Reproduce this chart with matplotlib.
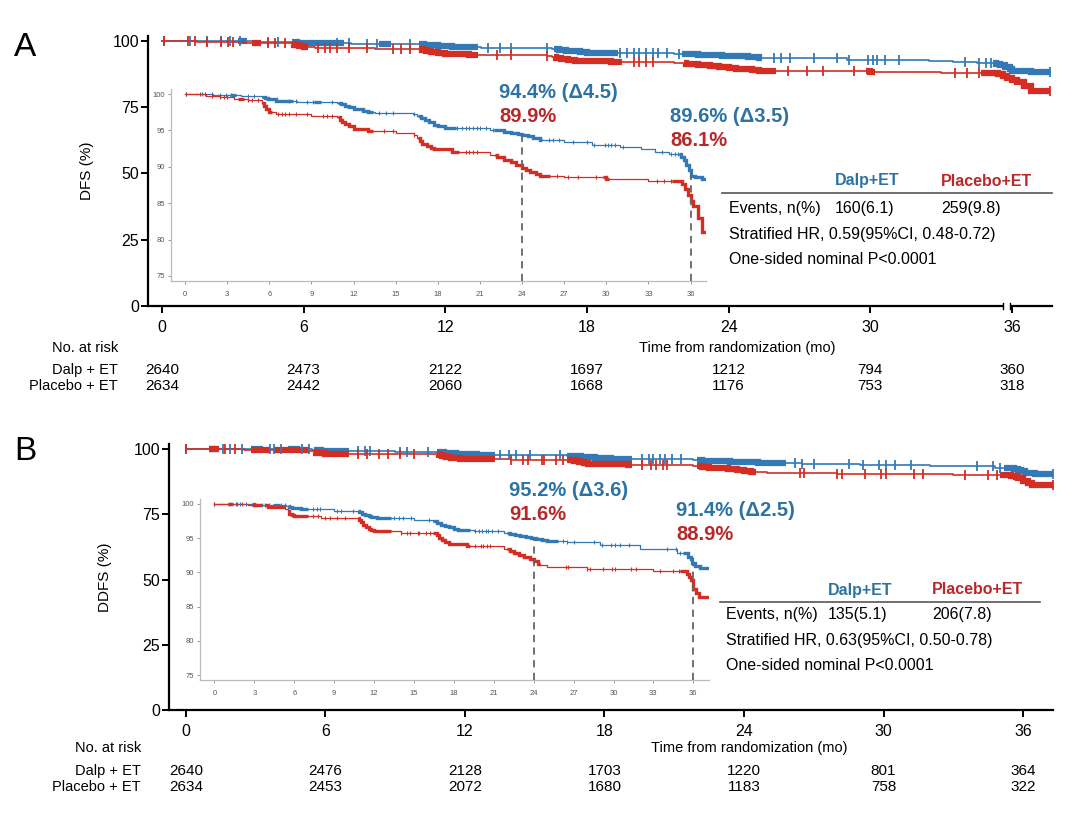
import numpy as np
import matplotlib
matplotlib.use("Agg")
import matplotlib.pyplot as plt
from matplotlib.transforms import blended_transform_factory

plt.rcParams['font.family'] = ['Liberation Sans', 'DejaVu Sans']

# ---------------- data ----------------
months = [0, 6, 12, 18, 24, 30, 36]
inset_ticks = [0, 3, 6, 9, 12, 15, 18, 21, 24, 27, 30, 33, 36]
inset_ylabels = [75, 80, 85, 90, 95, 100]

# Panel A (DFS)
A_blue_t = [0, 2.0, 4.0, 5.5, 5.7, 5.9, 6.5, 8.0, 10.8, 11.1, 11.4, 11.7, 12.0, 12.3, 12.7, 13.0, 13.5,
            16.2, 16.5, 16.8, 17.1, 17.4, 17.7, 18.0, 18.5, 20.0, 21.7, 22.2, 22.7, 23.2, 23.7, 24.0, 24.4,
            24.8, 25.3, 27.0, 29.0, 31.0, 32.5, 33.5, 34.5, 35.3, 35.5, 35.7, 35.9, 36.0, 36.3, 36.8, 37.6]
A_blue_s = [100, 99.9, 99.8, 99.6, 99.4, 99.3, 99.1, 98.9, 98.8, 98.6, 98.4, 98.2, 98.0, 97.9, 97.7, 97.6,
            97.4, 97.2, 97.0, 96.7, 96.4, 96.1, 95.8, 95.6, 95.4, 95.3, 95.1, 95.0, 94.8, 94.6, 94.5, 94.4,
            94.2, 94.0, 93.7, 93.4, 93.0, 92.7, 92.4, 92.1, 91.8, 91.4, 90.9, 90.3, 89.6, 88.8, 88.6, 88.3,
            88.3]
A_red_t = [0, 1.5, 2.5, 3.5, 4.5, 5.5, 5.6, 5.8, 6.0, 6.5, 9.0, 10.8, 11.0, 11.2, 11.4, 11.7, 12.0, 13.0,
           15.0, 16.3, 16.5, 16.7, 16.9, 17.2, 17.5, 17.7, 19.0, 21.7, 22.2, 22.7, 23.2, 23.6, 24.0, 24.3,
           24.6, 25.0, 25.3, 27.0, 30.0, 33.0, 35.4, 35.6, 35.8, 36.0, 36.2, 36.5, 36.8, 37.6]
A_red_s = [100, 99.8, 99.6, 99.3, 99.2, 98.8, 98.4, 98.0, 97.6, 97.3, 97.0, 96.8, 96.5, 96.2, 95.9, 95.6,
           95.2, 94.9, 94.6, 94.4, 94.0, 93.6, 93.2, 92.9, 92.6, 92.4, 92.0, 91.6, 91.3, 91.0, 90.7, 90.3,
           89.9, 89.6, 89.3, 89.0, 88.8, 88.6, 88.3, 88.0, 87.6, 86.9, 86.1, 85.3, 84.6, 83.0, 81.0, 81.0]
A_blue_cens = [0.1, 1.2, 1.9, 2.5, 2.9, 3.3, 4.5, 4.9, 7.4, 7.9, 8.7, 9.1, 10.5, 13.8, 14.3, 14.8, 16.3,
               19.4, 19.7, 20.0, 20.2, 20.5, 20.8, 21.0, 21.4, 21.9, 25.9, 26.2, 26.6, 27.6, 28.6, 29.1,
               29.9, 30.1, 30.3, 30.6, 31.2, 34.0, 34.6, 34.9, 35.1, 37.6]
A_blue_dense = [(3.2, 3.6), (5.5, 7.7), (9.2, 9.7), (10.9, 13.4), (16.6, 19.3), (22.0, 25.4), (35.2, 37.6)]
A_red_cens = [0.1, 1.1, 1.4, 1.9, 2.5, 2.8, 3.0, 4.5, 4.8, 5.2, 6.6, 6.9, 7.1, 7.4, 7.9, 8.7, 9.8, 10.1,
              10.5, 14.2, 14.8, 16.3, 20.0, 20.2, 20.5, 20.8, 26.5, 27.3, 28.0, 29.3, 33.6, 34.1, 34.6, 37.6]
A_red_dense = [(3.8, 4.2), (5.5, 6.2), (10.9, 13.4), (16.6, 19.5), (22.1, 26.0), (29.8, 30.2), (34.7, 37.6)]
A_risk_blue = [2640, 2473, 2122, 1697, 1212, 794, 360]
A_risk_red = [2634, 2442, 2060, 1668, 1176, 753, 318]
A_ann = [("94.4% (\u03944.5)", "89.9%"), ("89.6% (\u03943.5)", "86.1%")]
A_table = ["160(6.1)", "259(9.8)", "Stratified HR, 0.59(95%CI, 0.48-0.72)"]

# Panel B (DDFS)
B_blue_t = [0, 3.0, 5.4, 5.6, 5.8, 6.5, 9.0, 10.9, 11.1, 11.3, 11.6, 11.8, 12.2, 12.5, 15.0, 16.4, 16.7,
            17.0, 17.3, 17.6, 18.0, 18.3, 19.5, 21.8, 22.2, 22.6, 23.0, 23.4, 23.8, 24.2, 24.6, 25.0, 26.5,
            29.0, 32.0, 34.8, 35.6, 35.8, 35.9, 36.1, 36.5, 37.3]
B_blue_s = [100, 99.9, 99.7, 99.5, 99.4, 99.2, 99.0, 98.8, 98.6, 98.4, 98.2, 98.1, 98.0, 97.9, 97.7, 97.5,
            97.2, 97.0, 96.8, 96.6, 96.4, 96.2, 96.0, 95.8, 95.6, 95.5, 95.3, 95.2, 95.0, 94.9, 94.7, 94.6,
            94.4, 94.0, 93.4, 92.9, 92.3, 91.9, 91.4, 90.9, 90.6, 90.6]
B_red_t = [0, 2.5, 4.0, 5.3, 5.5, 5.6, 5.8, 6.0, 8.0, 10.9, 11.0, 11.2, 11.4, 11.6, 11.8, 12.0, 14.0, 16.7,
           16.9, 17.1, 17.3, 17.6, 19.0, 21.8, 22.2, 22.5, 22.9, 23.3, 23.7, 24.0, 24.3, 24.5, 25.0, 28.0,
           33.0, 35.5, 35.7, 35.8, 36.0, 36.2, 36.4, 37.3]
B_red_s = [100, 99.8, 99.5, 99.3, 99.0, 98.6, 98.4, 98.2, 98.0, 97.7, 97.4, 97.0, 96.7, 96.4, 96.2, 96.1,
           95.8, 95.4, 95.1, 94.7, 94.4, 94.2, 93.9, 93.4, 93.1, 92.9, 92.6, 92.3, 91.9, 91.6, 91.3, 91.1,
           90.8, 90.5, 90.2, 89.8, 89.3, 88.9, 87.6, 87.0, 86.4, 86.4]
B_blue_cens = [0.0, 1.6, 1.9, 2.4, 3.6, 3.8, 4.1, 5.0, 5.3, 7.4, 7.7, 7.9, 9.2, 9.5, 10.4, 13.5, 13.9, 14.2,
               14.8, 16.1, 19.6, 19.9, 20.1, 20.4, 20.6, 20.9, 21.3, 26.2, 26.5, 27.0, 28.5, 29.1, 29.8,
               30.1, 30.5, 31.2, 34.0, 34.7, 35.0, 37.3]
B_blue_dense = [(1.0, 1.3), (2.8, 3.3), (4.4, 4.9), (5.5, 7.0), (10.8, 13.3), (16.4, 19.2), (22.0, 25.8),
                (35.2, 37.3)]
B_red_cens = [0.0, 1.7, 2.1, 7.4, 7.8, 8.3, 8.7, 9.2, 9.8, 14.0, 14.5, 14.7, 15.3, 15.4, 15.9, 16.2, 19.6,
              20.0, 20.2, 20.5, 20.7, 26.4, 26.6, 28.0, 28.2, 29.2, 29.9, 30.1, 31.3, 31.7, 33.5, 34.5,
              34.9, 37.3]
B_red_dense = [(1.0, 1.4), (2.8, 3.6), (3.8, 5.3), (5.5, 7.0), (10.8, 13.3), (16.4, 19.2), (22.0, 24.5),
               (35.0, 37.3)]
B_risk_blue = [2640, 2476, 2128, 1703, 1220, 801, 364]
B_risk_red = [2634, 2453, 2072, 1680, 1183, 758, 322]
B_ann = [("95.2% (\u03943.6)", "91.6%"), ("91.4% (\u03942.5)", "88.9%")]
B_table = ["135(5.1)", "206(7.8)", "Stratified HR, 0.63(95%CI, 0.50-0.78)"]

BLUE = '#3279b5'
RED = '#d42d24'
TBLUE = '#2c72a3'
TRED = '#b8282a'

W, H = 1080, 823
fig = plt.figure(figsize=(W / 100, H / 100), dpi=100)


def fx(x):
    return x / W


def fy(y):
    return 1 - y / H


def rect(x0, x1, y0, y1):
    return [fx(x0), fy(y1), (x1 - x0) / W, (y1 - y0) / H]


def surv_at(t, s, x):
    t = np.asarray(t)
    s = np.asarray(s)
    i = np.searchsorted(t, x, side='right') - 1
    i = np.clip(i, 0, len(s) - 1)
    return s[i]


def step_xy(t, s, a, b):
    xs = [a]
    ys = [float(surv_at(t, s, a))]
    for ti, si in zip(t, s):
        if a < ti < b:
            xs += [ti, ti]
            ys += [ys[-1], si]
    xs.append(b)
    ys.append(ys[-1])
    return xs, ys


def draw_curve(ax, t, s, cens, dense, color, lw, dlw, ms, mew):
    ax.step(t, s, where='post', color=color, lw=lw, zorder=3)
    for a, b in dense:
        xs, ys = step_xy(t, s, a, b)
        ax.plot(xs, ys, color=color, lw=dlw, solid_capstyle='butt', solid_joinstyle='miter', zorder=3)
    ax.plot(cens, surv_at(t, s, np.asarray(cens)), linestyle='none', marker='|', color=color,
            ms=ms, mew=mew, zorder=4)


def panel(main_rect, main_xlim, inset_rect, inset_xlim, inset_ylim, curves, ylabel, ylabel_x,
          letter_xy, ann, ann_pos, table, table_pos, risk, risk_pos, axis_break):
    ax = fig.add_axes(main_rect)
    ax.set_xlim(*main_xlim)
    ax.set_ylim(0, 102)
    for sp in ['top', 'right']:
        ax.spines[sp].set_visible(False)
    for sp in ['left', 'bottom']:
        ax.spines[sp].set_linewidth(1.6)
    ax.set_yticks([0, 25, 50, 75, 100])
    ax.set_xticks(months)
    ax.tick_params(axis='y', length=5, width=1.4, pad=1.5, labelsize=11.5)
    ax.tick_params(axis='x', length=5, width=1.4, pad=5, labelsize=11.5)
    ax.set_ylabel(ylabel, fontsize=11)
    ax.yaxis.set_label_coords(ylabel_x, 0.5)
    for t, s, cens, dense, col in curves:
        draw_curve(ax, t, s, cens, dense, col, 1.2, 4.5, 7, 1.3)
    if axis_break:
        ax.plot([35.62, 35.92], [0, 0], color='white', lw=4, clip_on=False, zorder=10,
                solid_capstyle='butt')
        ax.plot([35.62, 35.62], [-1.2, 1.2], color='black', lw=1.0, clip_on=False, zorder=11)
        ax.plot([35.92, 35.92], [-1.2, 1.2], color='black', lw=1.0, clip_on=False, zorder=11)

    # inset
    ai = fig.add_axes(inset_rect)
    ai.patch.set_alpha(0)
    ai.set_xlim(*inset_xlim)
    ai.set_ylim(*inset_ylim)
    for sp in ['top', 'right']:
        ai.spines[sp].set_visible(False)
    for sp in ['left', 'bottom']:
        ai.spines[sp].set_color('#bbbbbb')
        ai.spines[sp].set_linewidth(0.9)
    ai.set_xticks(inset_ticks)
    ai.set_yticks(inset_ylabels)
    ai.tick_params(axis='both', length=2.5, width=0.7, color='#999999', labelsize=5.5,
                   labelcolor='#555555')
    ai.tick_params(axis='x', pad=4.5)
    ai.tick_params(axis='y', pad=2)
    for t, s, cens, dense, col in curves:
        draw_curve(ai, t, s, cens, dense, col, 0.9, 2.4, 3.5, 0.8)
    bt, bs = curves[0][0], curves[0][1]
    for m in (24, 36):
        ai.plot([m, m], [inset_ylim[0], float(surv_at(bt, bs, m - 0.01))], color='#666666', lw=1.3,
                linestyle=(0, (4, 3)), zorder=5)

    # letter
    fig.text(fx(letter_xy[0]), fy(letter_xy[1]), letter_xy[2], fontsize=24, ha='left', va='center')

    # annotations
    for (tb, tr), (x, y1, y2) in zip(ann, ann_pos):
        fig.text(fx(x), fy(y1), tb, color=TBLUE, fontsize=14.5, fontweight='bold', ha='left', va='center')
        fig.text(fx(x), fy(y2), tr, color=TRED, fontsize=14.5, fontweight='bold', ha='left', va='center')

    # table
    tx0, tx1, tx2, tline, lx0, lx1, yh, yr1, yr2, yr3 = table_pos
    fig.text(fx(tx1), fy(yh), "Dalp+ET", color=TBLUE, fontsize=11.5, fontweight='bold', ha='left', va='center')
    fig.text(fx(tx2), fy(yh), "Placebo+ET", color=TRED, fontsize=11.5, fontweight='bold', ha='left', va='center')
    fig.add_artist(plt.Line2D([fx(lx0), fx(lx1)], [fy(tline), fy(tline)], color='#555555', lw=1.2))
    fig.text(fx(tx0), fy(yr1), "Events, n(%)", fontsize=11.5, ha='left', va='center')
    fig.text(fx(tx1), fy(yr1), table[0], fontsize=11.5, ha='left', va='center')
    fig.text(fx(tx2), fy(yr1), table[1], fontsize=11.5, ha='left', va='center')
    fig.text(fx(tx0), fy(yr2), table[2], fontsize=11.5, ha='left', va='center')
    fig.text(fx(tx0), fy(yr3), "One-sided nominal P<0.0001", fontsize=11.5, ha='left', va='center')

    # risk table
    rblue, rred = risk
    lab_x, y_hdr, y1, y2, time_x = risk_pos
    tr = blended_transform_factory(ax.transData, fig.transFigure)
    fig.text(fx(lab_x), fy(y_hdr), "No. at risk", fontsize=10.5, ha='right', va='center')
    fig.text(fx(time_x), fy(y_hdr), "Time from randomization (mo)", fontsize=10.5, ha='center', va='center')
    fig.text(fx(lab_x), fy(y1), "Dalp + ET", fontsize=10.5, ha='right', va='center')
    fig.text(fx(lab_x), fy(y2), "Placebo + ET", fontsize=10.5, ha='right', va='center')
    for m, vb, vr in zip(months, rblue, rred):
        ax.text(m, fy(y1), str(vb), transform=tr, fontsize=11, ha='center', va='center')
        ax.text(m, fy(y2), str(vr), transform=tr, fontsize=11, ha='center', va='center')


# Panel A
panel(main_rect=rect(148, 1052, 35.7, 306), main_xlim=(-0.593, 37.69),
      inset_rect=rect(171, 706, 89, 281), inset_xlim=(-1.0, 37.1), inset_ylim=(74.3, 100.7),
      curves=[(A_blue_t, A_blue_s, A_blue_cens, A_blue_dense, BLUE),
              (A_red_t, A_red_s, A_red_cens, A_red_dense, RED)],
      ylabel="DFS (%)", ylabel_x=-0.06, letter_xy=(14, 47, "A"),
      ann=A_ann, ann_pos=[(499, 92, 117), (670, 117, 141)],
      table=A_table, table_pos=(729, 835, 941, 193, 722, 1052, 181, 208, 234, 260),
      risk=(A_risk_blue, A_risk_red), risk_pos=(118, 348, 369.5, 385.5, 737),
      axis_break=True)

# Panel B
panel(main_rect=rect(169, 1053, 443.8, 710), main_xlim=(-0.73, 37.29),
      inset_rect=rect(200, 709, 499, 680), inset_xlim=(-1.09, 37.18), inset_ylim=(74.27, 100.73),
      curves=[(B_blue_t, B_blue_s, B_blue_cens, B_blue_dense, BLUE),
              (B_red_t, B_red_s, B_red_cens, B_red_dense, RED)],
      ylabel="DDFS (%)", ylabel_x=-0.065, letter_xy=(14, 452, "B"),
      ann=B_ann, ann_pos=[(509, 491, 515), (676, 511, 535)],
      table=B_table, table_pos=(726, 828, 932, 602, 720, 1040, 590, 615, 641, 666),
      risk=(B_risk_blue, B_risk_red), risk_pos=(141, 748, 771, 787, 749),
      axis_break=False)

fig.savefig("out.png", dpi=100)
